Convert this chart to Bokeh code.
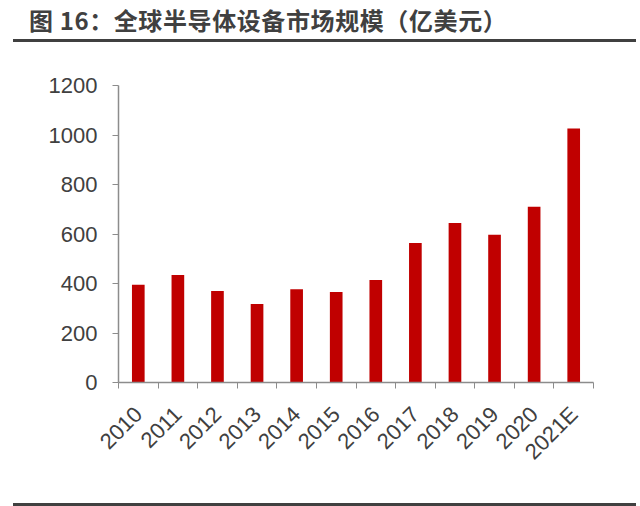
import numpy as np
from bokeh.plotting import figure
from bokeh.layouts import column
from bokeh.models import Range1d, FixedTicker, Div
from bokeh.embed import file_html
from bokeh.resources import INLINE

title_text = "图 16：全球半导体设备市场规模（亿美元）"
categories = ["2010", "2011", "2012", "2013", "2014", "2015", "2016",
              "2017", "2018", "2019", "2020", "2021E"]
market_size = [395, 434, 370, 317, 377, 366, 414, 564, 644, 597, 710, 1026]
y_ticks = [0, 200, 400, 600, 800, 1000, 1200]

W = 636
DARK = "#404040"
AXIS = "#8c8c8c"
RED = "#C00000"

header = Div(
    width=W, height=44,
    text=('<div style="margin-left:13px;width:623px;height:42px;box-sizing:border-box;'
          'border-bottom:3px solid #404040;padding-left:16px;'
          "font-family:'Noto Sans CJK SC';font-weight:bold;font-size:24px;"
          'letter-spacing:0.6px;color:#404040;line-height:39px;white-space:nowrap;">'
          + title_text + '</div>'),
    styles={"margin": "0", "padding": "0"})

n = len(categories)
centers = np.arange(n) + 0.5
bounds = list(np.arange(n + 1).astype(float))

p = figure(width=W, height=450, output_backend="svg", toolbar_location=None,
           x_range=Range1d(0, n), y_range=Range1d(0, 1200),
           min_border_left=118, min_border_right=43,
           min_border_top=41, min_border_bottom=112)
p.outline_line_color = None
p.grid.visible = False
p.vbar(x=centers, top=market_size, width=0.32, fill_color=RED, line_color=None)

xa = p.xaxis[0]
xa.ticker = FixedTicker(ticks=list(centers), minor_ticks=bounds)
xa.major_label_overrides = {float(c): lab for c, lab in zip(centers, categories)}
xa.major_tick_line_color = None
xa.minor_tick_line_color = AXIS
xa.minor_tick_in = 0
xa.minor_tick_out = 6
xa.axis_line_color = AXIS
xa.axis_line_width = 1.5
xa.major_label_orientation = np.pi / 4
xa.major_label_text_font = "Liberation Sans"
xa.major_label_text_font_size = "22px"
xa.major_label_text_color = DARK
xa.major_label_standoff = 22

ya = p.yaxis[0]
ya.ticker = FixedTicker(ticks=y_ticks, minor_ticks=[])
ya.major_tick_in = 0
ya.major_tick_out = 6
ya.major_tick_line_color = AXIS
ya.minor_tick_line_color = None
ya.axis_line_color = AXIS
ya.axis_line_width = 1.5
ya.major_label_text_font = "Liberation Sans"
ya.major_label_text_font_size = "22px"
ya.major_label_text_color = DARK
ya.major_label_standoff = 15

footer = Div(
    width=W, height=8,
    text=('<div style="margin-left:13px;width:623px;height:8px;box-sizing:border-box;'
          'border-bottom:3px solid #404040;"></div>'),
    styles={"margin": "0", "padding": "0"})

layout = column(header, p, footer, spacing=0)
open("out.html", "w").write(file_html(layout, INLINE))
